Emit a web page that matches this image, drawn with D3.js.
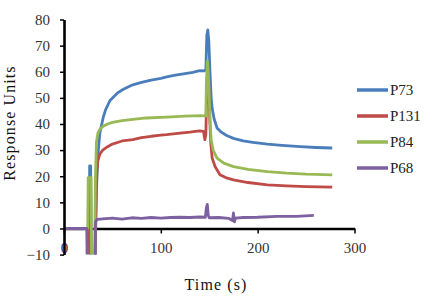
<!DOCTYPE html>
<html>
<head>
<meta charset="utf-8">
<script src="https://cdn.jsdelivr.net/npm/d3@7"></script>
<style>
body { margin: 0; background: #fff; }
</style>
</head>
<body>
<div class="chart"></div>
<script>
var svg_width = 427;
var svg_height = 300;
var serif = "Liberation Serif";

// series names and colours
var seriesNames = ["P73", "P131", "P84", "P68"];
var seriesColors = ["#4a7ebb", "#be4b48", "#98b954", "#7d60a0"];

var xTicks = [0, 100, 200, 300];
var yTicks = [-10, 0, 10, 20, 30, 40, 50, 60, 70, 80];

// P73
var p73T = [0, 26, 26.5, 27.5, 28, 28.5, 32, 33, 34, 35, 37, 40.5, 43, 47.5, 55, 60, 65, 71, 80, 90, 100, 106, 115, 125, 133, 140, 145, 146.5, 147.5, 148.5, 149.5, 151, 152, 153, 155, 158, 162, 168, 175, 185, 195, 210, 225, 244, 260, 277];
var p73V = [0, 0, 24, 24, 0, -15, -15, 5, 20, 28, 36.5, 42.5, 45.5, 49, 51.8, 53, 54, 55, 55.9, 56.8, 57.5, 58, 58.7, 59.3, 59.8, 60.4, 60.3, 61, 74, 76, 72, 58, 50, 46, 42, 38.5, 37, 35.6, 34.5, 33.5, 33, 32.3, 31.8, 31.3, 31, 30.8];

// P131
var p131T = [0, 26, 26.5, 32, 33, 34, 35, 37, 40, 45, 50, 60, 71, 80, 90, 100, 106, 120, 130, 140, 144, 145.5, 146.5, 147.5, 148.5, 149.5, 150.5, 151.5, 153, 156, 161, 167, 175, 190, 210, 230, 250, 277];
var p131V = [0, 0, -15, -15, 10, 22, 26, 28.5, 30, 31.3, 32.3, 33.5, 34, 34.8, 35.3, 35.7, 35.9, 36.5, 36.9, 37.4, 37.2, 34, 36, 55, 62, 55, 42, 33, 27, 23.7, 20.6, 19.5, 18.6, 17.6, 16.7, 16.3, 16, 15.8];

// P84
var p84T = [0, 24.5, 25, 28, 28.5, 31.5, 32.5, 33.5, 35, 37, 40, 45, 50, 60, 71, 85, 106, 125, 141, 146.5, 147, 148, 149, 150, 151, 152, 154, 158, 165, 175, 190, 210, 230, 250, 277];
var p84V = [0, 0, 19.5, 19.5, -15, -15, 20, 33, 36.5, 38, 39, 40, 40.6, 41.3, 41.8, 42.3, 42.6, 43, 43.2, 43, 55, 64, 60, 50, 40, 34, 30, 26.9, 25, 23.7, 22.6, 21.8, 21.2, 20.8, 20.5];

// P68
var p68T = [0, 23.5, 24, 32, 32.5, 34, 40, 50, 60, 70, 80, 90, 100, 110, 120, 130, 140, 146, 147, 148, 149, 150, 160, 170, 174, 175, 176, 177, 185, 200, 220, 240, 258];
var p68V = [0, 0, -15, -15, 2.5, 3.5, 3.7, 4, 3.6, 4.1, 3.9, 4.2, 4, 4.2, 4.3, 4.2, 4.4, 4.3, 8, 9.2, 5, 4.1, 4.2, 3.9, 3, 6, 2.5, 4, 4.2, 4.3, 4.6, 4.6, 5];

var seriesT = [p73T, p131T, p84T, p68T];
var seriesV = [p73V, p131V, p84V, p68V];

var svg = d3.select(".chart")
	.append("svg")
	.attr("width", svg_width)
	.attr("height", svg_height)
	.style("background", "#fff");

var xScale = d3.scaleLinear().domain([0, 300]).range([64, 354.5]);
var yScale = d3.scaleLinear().domain([-10, 80]).range([254.6, 19.5]);

// clip region = plot area
svg.append("clipPath")
	.attr("id", "plotClip")
	.append("rect")
	.attr("x", xScale(0))
	.attr("y", yScale(80))
	.attr("width", xScale(300) - xScale(0))
	.attr("height", yScale(-10) - yScale(80));

// x axis sits at y = 0
var bottom_axis = d3.axisBottom(xScale)
	.tickValues(xTicks)
	.tickSizeInner(5)
	.tickSizeOuter(0)
	.tickPadding(9);

var xAxis = svg.append("g")
	.attr("transform", `translate(0,${yScale(0)})`)
	.call(bottom_axis)
	.attr("font-family", serif)
	.attr("font-size", 15);
xAxis.select(".domain").attr("stroke", "#000").attr("stroke-width", 2.6);
xAxis.selectAll(".tick line").attr("stroke", "#000").attr("stroke-width", 1.5);
xAxis.selectAll(".tick text").attr("fill", "#333");

// lines
var line = d3.line()
	.x(d => xScale(d[0]))
	.y(d => yScale(d[1]));

var plot = svg.append("g").attr("clip-path", "url(#plotClip)");
seriesNames.forEach(function(name, i) {
	var pts = seriesT[i].map((t, j) => [t, seriesV[i][j]]);
	plot.append("path")
		.datum(pts)
		.attr("fill", "none")
		.attr("stroke", seriesColors[i])
		.attr("stroke-width", 2.8)
		.attr("stroke-linejoin", "round")
		.attr("d", line);
});

// y axis drawn last so it covers the "0" label like the original
var left_axis = d3.axisLeft(yScale)
	.tickValues(yTicks)
	.tickSizeInner(4)
	.tickSizeOuter(0)
	.tickPadding(10);

var yAxis = svg.append("g")
	.attr("transform", `translate(${xScale(0)},0)`)
	.call(left_axis)
	.attr("font-family", serif)
	.attr("font-size", 15);
yAxis.select(".domain").attr("stroke", "#000").attr("stroke-width", 2.6);
yAxis.selectAll(".tick line").attr("stroke", "#000").attr("stroke-width", 1.5);
yAxis.selectAll(".tick text").attr("fill", "#333");

// legend
var legend = svg.append("g")
	.attr("font-family", serif)
	.attr("font-size", 15);
seriesNames.forEach(function(name, i) {
	var ly = 90 + i * 26;
	legend.append("line")
		.attr("x1", 357).attr("x2", 388)
		.attr("y1", ly).attr("y2", ly)
		.attr("stroke", seriesColors[i])
		.attr("stroke-width", 3.5);
	legend.append("text")
		.attr("x", 390)
		.attr("y", ly)
		.attr("dy", "0.35em")
		.attr("fill", "#222")
		.text(name);
});

// axis labels
svg.append("text")
	.attr("transform", "translate(15,123) rotate(-90)")
	.attr("text-anchor", "middle")
	.attr("font-family", serif)
	.attr("font-size", 16)
	.attr("letter-spacing", 1.1)
	.attr("fill", "#111")
	.text("Response Units");

svg.append("text")
	.attr("x", 216)
	.attr("y", 290)
	.attr("text-anchor", "middle")
	.attr("font-family", serif)
	.attr("font-size", 16)
	.attr("letter-spacing", 1.1)
	.attr("fill", "#111")
	.text("Time (s)");
</script>
</body>
</html>
